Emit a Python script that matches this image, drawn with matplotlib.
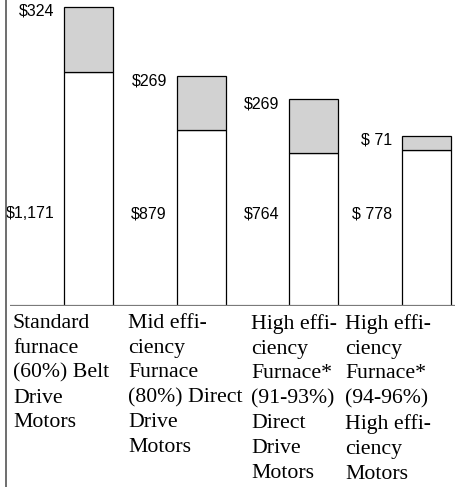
import matplotlib
matplotlib.use("Agg")
import matplotlib.pyplot as plt
from matplotlib.lines import Line2D

# furnace types, as printed under the bars
categories = [
    "Standard\nfurnace\n(60%) Belt\nDrive\nMotors",
    "Mid effi-\nciency\nFurnace\n(80%) Direct\nDrive\nMotors",
    "High effi-\nciency\nFurnace*\n(91-93%)\nDirect\nDrive\nMotors",
    "High effi-\nciency\nFurnace*\n(94-96%)\nHigh effi-\nciency\nMotors",
]
base_cost = [1171, 879, 764, 778]
extra_cost = [324, 269, 269, 71]
base_labels = ["$1,171", "$879", "$764", "$ 778"]
extra_labels = ["$324", "$269", "$269", "$ 71"]

W, H, DPI = 455, 487, 100
fig = plt.figure(figsize=(W / DPI, H / DPI), dpi=DPI)
fig.patch.set_facecolor("white")

# axes spans from the baseline (y=306 px) up to the top edge
ax = fig.add_axes([10 / W, (H - 306) / H, 445 / W, 306 / H])
ax.set_xlim(-0.697, 3.253)
ax.set_ylim(0, 1530)
ax.axis("off")

x = list(range(len(categories)))
bw = 0.435
ax.bar(x, base_cost, width=bw, color="white", edgecolor="black", linewidth=0.9, zorder=2)
ax.bar(x, extra_cost, width=bw, bottom=base_cost, color="#d2d2d2",
       edgecolor="black", linewidth=0.9, zorder=2)

sans = ["Liberation Sans", "DejaVu Sans"]
serif = ["Liberation Serif", "DejaVu Serif"]
# left edges of the text columns under the bars (figure pixels)
col_left = [13, 128, 251, 345]
for i in x:
    top = base_cost[i] + extra_cost[i]
    ax.annotate(extra_labels[i], (i - bw / 2, top), xytext=(-7, -3),
                textcoords="offset points", ha="right", va="center",
                fontsize=11.5, family=sans)
    ax.annotate(base_labels[i], (i - bw / 2, 460), xytext=(-7, 0),
                textcoords="offset points", ha="right", va="center",
                fontsize=11.5, family=sans)
    fig.text(col_left[i] / W, (H - 314) / H, categories[i], ha="left", va="top",
             fontsize=15.7, family=serif, linespacing=1.41)

# baseline and left frame line
ax.axhline(0, color="#7a7a7a", linewidth=1.6, zorder=3)
fig.add_artist(Line2D([5.5 / W, 5.5 / W], [0, 1], color="#555555", linewidth=1.2))

fig.savefig("out.png", dpi=DPI)
